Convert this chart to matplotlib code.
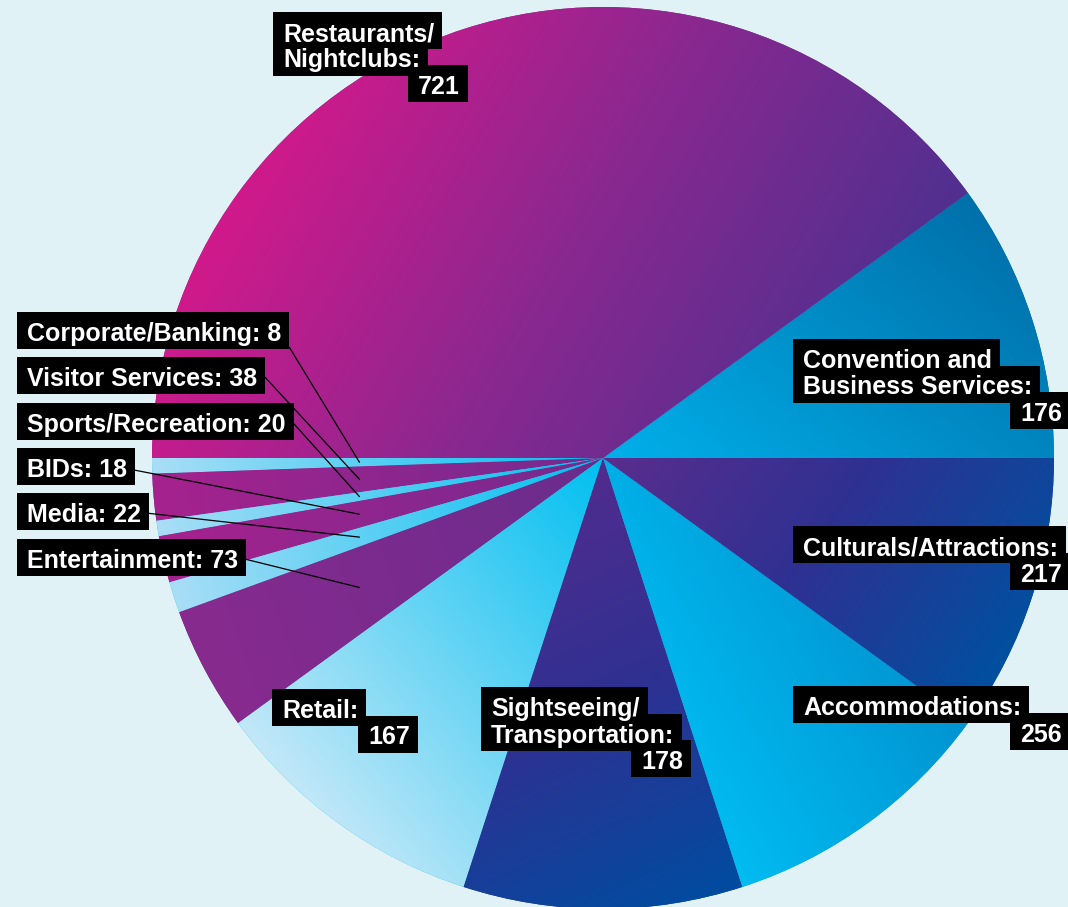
import numpy as np
import matplotlib.pyplot as plt
from matplotlib.colors import LinearSegmentedColormap
from matplotlib.patches import Rectangle

# slices in drawing order, counter-clockwise from 3 o'clock
categories = ["Convention and\nBusiness Services", "Restaurants/\nNightclubs",
              "Corporate/Banking", "Visitor Services", "Sports/Recreation",
              "BIDs", "Media", "Entertainment", "Retail",
              "Sightseeing/\nTransportation", "Accommodations", "Culturals/Attractions"]
values = [176, 721, 8, 38, 20, 18, 22, 73, 167, 178, 256, 217]
# slice sizes as drawn in the original graphic (degrees) - it is not to scale
drawn_deg = [36, 144, 2, 6, 2, 6, 4, 16, 36, 36, 36, 36]

# gradient per slice: direction (deg) and colour stops
light = (10, ['#a9def6', '#00bff0'])
purple = (10, ['#a6228f', '#742b8e'])
gradients = [
    (50, ['#00b0ea', '#0070aa']),
    (-30, ['#d2198b', '#8a2890', '#50308f']),
    light, purple, light, purple, light,
    (20, ['#882a8f', '#6a2d8c']),
    (40, ['#c3e8f8', '#00bff0']),
    (-65, ['#512c8e', '#2e3192', '#004ca0']),
    (30, ['#00bcf1', '#0094d2']),
    (-35, ['#5a2d8d', '#2e3192', '#0050a0']),
]

bg = '#e0f2f5'
W, H = 1068, 907
cx, cy, R = 603, 458, 451   # pie centre / radius in pixels (from top)

fig = plt.figure(figsize=(W / 100, H / 100), dpi=100, facecolor=bg)
ax = fig.add_axes([0, 0, 1, 1])

wedges, _ = ax.pie(drawn_deg, startangle=0, counterclock=True,
                   colors=[g[1][len(g[1]) // 2] for g in gradients],
                   wedgeprops=dict(linewidth=0))

xlim = (-cx / R, (W - cx) / R)
ylim = (-(H - cy) / R, cy / R)
ax.set_xlim(xlim)
ax.set_ylim(ylim)
ax.set_aspect('auto')
ax.axis('off')

# gradient fill clipped to each wedge
gx, gy = np.meshgrid(np.linspace(xlim[0], xlim[1], 600),
                     np.linspace(ylim[0], ylim[1], 520))
for w, (ang, stops) in zip(wedges, gradients):
    d = np.array([np.cos(np.radians(ang)), np.sin(np.radians(ang))])
    proj = w.get_path().vertices @ d
    t = (gx * d[0] + gy * d[1] - proj.min()) / (proj.max() - proj.min())
    cmap = LinearSegmentedColormap.from_list('g', stops)
    im = ax.imshow(cmap(np.clip(t, 0, 1)), extent=(*xlim, *ylim), origin='lower',
                   interpolation='bilinear', aspect='auto', zorder=2)
    im.set_clip_path(w)

# ---- labels: white bold text on black boxes ----
FS = 18
PITCH = 26.5
ML, MR, MT, MB = 10, 8, 10, 3   # box margins around the text extent (px)
renderer = fig.canvas.get_renderer()


def put_line(s, top, left=None, right=None):
    # top / left / right are the box edges in pixels from the top-left corner
    y = H - (top + MT)
    if left is not None:
        t = fig.text((left + ML) / W, y / H, s, ha='left', va='top')
    else:
        t = fig.text((right - MR) / W, y / H, s, ha='right', va='top')
    t.set(color='white', fontsize=FS, fontweight='bold',
          family=['Liberation Sans', 'DejaVu Sans'], zorder=5)
    e = t.get_window_extent(renderer)
    box = Rectangle((e.x0 - ML, e.y0 - MB), e.width + ML + MR, e.height + MT + MB,
                    transform=None, fc='black', ec='none', zorder=4)
    fig.add_artist(box)
    return box


# big labels: box left, box top, right edge of number box
big_pos = {
    "Restaurants/\nNightclubs": (273, 12, 468),
    "Convention and\nBusiness Services": (793, 339, 1070),
    "Culturals/Attractions": (793, 526, 1070),
    "Accommodations": (793, 686, 1070),
    "Sightseeing/\nTransportation": (481, 687, 691),
    "Retail": (272, 689, 418),
}
for name, (left, top, nr) in big_pos.items():
    v = values[categories.index(name)]
    lines = (name + ':').split('\n')
    for i, s in enumerate(lines):
        put_line(s, top + i * PITCH, left=left)
    put_line(str(v), top + len(lines) * PITCH, right=nr)

# small labels with leader lines (box left, box top, leader start height in box)
small_pos = {
    "Corporate/Banking": (17, 312, 0.05),
    "Visitor Services": (17, 357, 0.45),
    "Sports/Recreation": (17, 403, 0.45),
    "BIDs": (17, 448, 0.4),
    "Media": (17, 493, 0.45),
    "Entertainment": (17, 539, 0.45),
}
for name, (left, top, rp) in small_pos.items():
    i = categories.index(name)
    box = put_line(f"{name}: {values[i]}", top, left=left)
    w = wedges[i]
    mid = np.radians((w.theta1 + w.theta2) / 2)
    xe = -0.54
    ye = xe * np.tan(mid)
    sx = box.get_x() + box.get_width()
    sy = box.get_y() + rp * box.get_height()
    ax.annotate("", xy=(xe, ye), xytext=(sx, sy), textcoords='figure pixels',
                arrowprops=dict(arrowstyle='-', color='black', lw=0.9,
                                shrinkA=0, shrinkB=0), zorder=3)

fig.savefig('out.png', dpi=100, facecolor=bg)
